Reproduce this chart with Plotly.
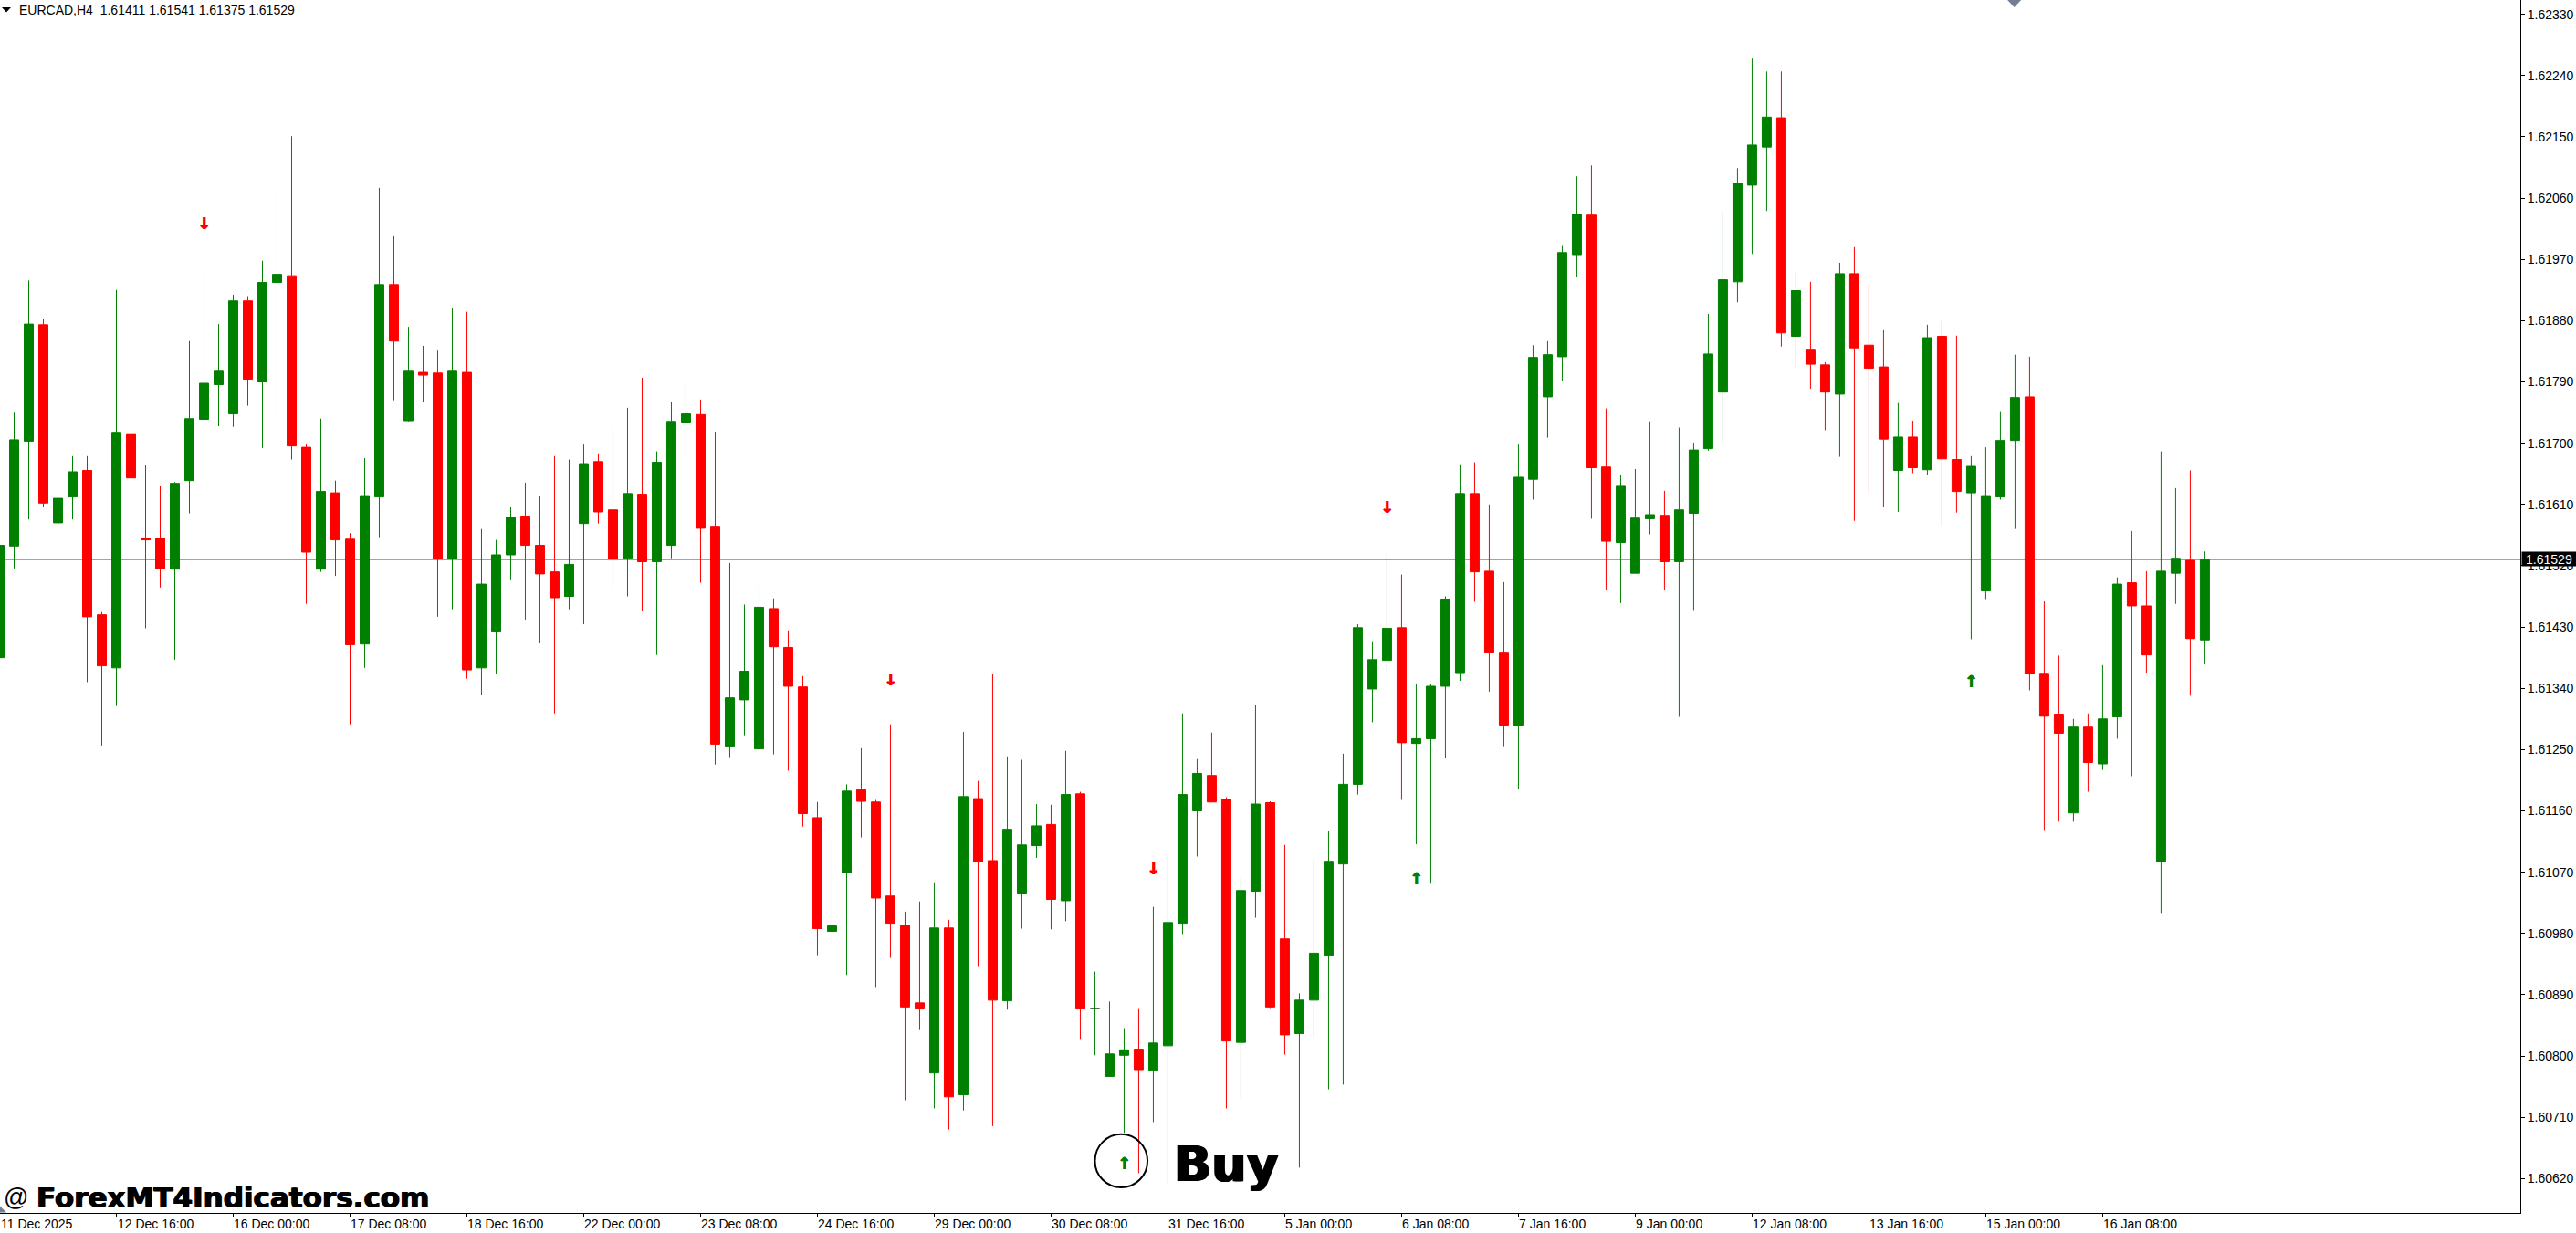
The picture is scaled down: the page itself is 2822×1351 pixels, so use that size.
import plotly.graph_objects as go

symbol_header = "EURCAD,H4\u00a0\u00a01.61411 1.61541 1.61375 1.61529"
last_price = 1.61529

opens = [1.61385,1.61549,1.61703,1.61874,1.61583,1.61621,1.61660,1.61448,1.61370,1.61714,
1.61560,1.61560,1.61515,1.61645,1.61735,1.61786,1.61743,1.61909,1.61790,1.61936,
1.61946,1.61694,1.61515,1.61627,1.61559,1.61405,1.61621,1.61933,1.61733,1.61804,
1.61803,1.61530,1.61804,1.61370,1.61424,1.61536,1.61593,1.61550,1.61511,1.61475,
1.61582,1.61673,1.61602,1.61531,1.61625,1.61526,1.61550,1.61731,1.61742,1.61578,
1.61255,1.61323,1.61251,1.61457,1.61400,1.61342,1.61150,1.60983,1.61069,1.61191,
1.61173,1.61035,1.60992,1.60878,1.60775,1.60988,1.60743,1.61178,1.61087,1.60881,
1.61038,1.61109,1.61140,1.61028,1.61185,1.60870,1.60770,1.60801,1.60810,1.60779,
1.60815,1.60995,1.61160,1.61212,1.61177,1.60820,1.61042,1.61172,1.60972,1.60833,
1.60882,1.60948,1.61082,1.61199,1.61339,1.61381,1.61429,1.61259,1.61266,1.61343,
1.61363,1.61626,1.61512,1.61393,1.61286,1.61647,1.61768,1.61827,1.61977,1.62035,
1.61665,1.61554,1.61509,1.61589,1.61594,1.61526,1.61597,1.61692,1.61775,1.61937,
1.62079,1.62135,1.62178,1.61857,1.61838,1.61815,1.61772,1.61949,1.61844,1.61812,
1.61660,1.61709,1.61661,1.61857,1.61676,1.61627,1.61483,1.61621,1.61704,1.61768,
1.61362,1.61302,1.61157,1.61283,1.61229,1.61298,1.61495,1.61461,1.61085,1.61509,
1.61528,1.61411]

highs = [1.61550,1.61746,1.61939,1.61882,1.61750,1.61681,1.61681,1.61452,1.61925,1.61720,
1.61668,1.61637,1.61643,1.61850,1.61962,1.61875,1.61918,1.61916,1.61968,1.62079,
1.62151,1.61698,1.61736,1.61645,1.61568,1.61678,1.62075,1.62004,1.61871,1.61843,
1.61836,1.61899,1.61893,1.61574,1.61558,1.61606,1.61642,1.61623,1.61681,1.61676,
1.61698,1.61685,1.61723,1.61752,1.61796,1.61688,1.61760,1.61788,1.61764,1.61717,
1.61524,1.61463,1.61492,1.61472,1.61425,1.61358,1.61173,1.61117,1.61199,1.61252,
1.61176,1.61287,1.61012,1.61027,1.61055,1.61000,1.61276,1.61204,1.61361,1.61240,
1.61235,1.61170,1.61169,1.61248,1.61188,1.60924,1.60880,1.60841,1.60869,1.61019,
1.61095,1.61303,1.61236,1.61275,1.61180,1.61061,1.61315,1.61174,1.61110,1.60892,
1.61090,1.61130,1.61244,1.61434,1.61409,1.61538,1.61507,1.61347,1.61347,1.61475,
1.61669,1.61672,1.61610,1.61496,1.61698,1.61844,1.61850,1.61991,1.62092,1.62108,
1.61751,1.61653,1.61662,1.61732,1.61630,1.61723,1.61701,1.61890,1.62040,1.62104,
1.62265,1.62246,1.62246,1.61952,1.61937,1.61819,1.61965,1.61988,1.61933,1.61866,
1.61759,1.61733,1.61874,1.61879,1.61858,1.61681,1.61694,1.61747,1.61830,1.61827,
1.61469,1.61388,1.61295,1.61303,1.61374,1.61503,1.61571,1.61512,1.61688,1.61634,
1.61660,1.61541]

lows = [1.61385,1.61516,1.61588,1.61606,1.61578,1.61588,1.61349,1.61256,1.61314,1.61582,
1.61428,1.61488,1.61382,1.61597,1.61697,1.61725,1.61724,1.61755,1.61693,1.61731,
1.61676,1.61464,1.61511,1.61505,1.61287,1.61370,1.61562,1.61763,1.61732,1.61761,
1.61445,1.61456,1.61354,1.61330,1.61361,1.61500,1.61441,1.61406,1.61303,1.61456,
1.61434,1.61582,1.61489,1.61475,1.61454,1.61389,1.61531,1.61681,1.61495,1.61228,
1.61239,1.61271,1.61251,1.61243,1.61219,1.61137,1.60948,1.60960,1.60919,1.61121,
1.60900,1.60944,1.60735,1.60838,1.60723,1.60692,1.60720,1.60932,1.60697,1.60868,
1.60987,1.61091,1.60986,1.60998,1.60825,1.60801,1.60770,1.60687,1.60628,1.60703,
1.60612,1.60979,1.61093,1.61173,1.60723,1.60738,1.61003,1.60869,1.60802,1.60636,
1.60827,1.60751,1.60758,1.61184,1.61290,1.61363,1.61176,1.61111,1.61053,1.61237,
1.61351,1.61467,1.61335,1.61255,1.61192,1.61617,1.61708,1.61791,1.61944,1.61589,
1.61485,1.61465,1.61509,1.61566,1.61484,1.61298,1.61455,1.61689,1.61700,1.61907,
1.61978,1.62041,1.61842,1.61810,1.61780,1.61719,1.61680,1.61586,1.61626,1.61607,
1.61599,1.61656,1.61653,1.61579,1.61598,1.61412,1.61471,1.61617,1.61574,1.61337,
1.61132,1.61144,1.61144,1.61188,1.61220,1.61266,1.61211,1.61363,1.61010,1.61464,
1.61329,1.61375]

closes = [1.61550,1.61705,1.61875,1.61612,1.61619,1.61658,1.61445,1.61373,1.61716,1.61649,
1.61558,1.61516,1.61641,1.61736,1.61788,1.61807,1.61909,1.61794,1.61936,1.61948,
1.61696,1.61540,1.61629,1.61558,1.61404,1.61623,1.61933,1.61850,1.61807,1.61800,
1.61530,1.61807,1.61367,1.61493,1.61536,1.61591,1.61550,1.61508,1.61473,1.61522,
1.61670,1.61599,1.61530,1.61626,1.61526,1.61672,1.61732,1.61743,1.61575,1.61258,
1.61326,1.61365,1.61459,1.61401,1.61343,1.61156,1.60987,1.60991,1.61189,1.61174,
1.61032,1.60995,1.60872,1.60869,1.60988,1.60740,1.61181,1.61085,1.60882,1.61133,
1.61110,1.61138,1.61030,1.61184,1.60869,1.60870,1.60803,1.60809,1.60780,1.60819,
1.60996,1.61184,1.61215,1.61173,1.60822,1.61043,1.61170,1.60872,1.60831,1.60882,
1.60951,1.61086,1.61199,1.61429,1.61382,1.61428,1.61260,1.61266,1.61343,1.61471,
1.61626,1.61511,1.61393,1.61286,1.61650,1.61826,1.61830,1.61980,1.62036,1.61664,
1.61556,1.61638,1.61590,1.61595,1.61526,1.61602,1.61690,1.61831,1.61940,1.62082,
1.62138,1.62179,1.61862,1.61924,1.61816,1.61775,1.61949,1.61840,1.61810,1.61706,
1.61709,1.61664,1.61855,1.61677,1.61629,1.61666,1.61623,1.61704,1.61767,1.61361,
1.61299,1.61274,1.61283,1.61231,1.61295,1.61493,1.61461,1.61389,1.61512,1.61531,
1.61413,1.61529]

y_ticks = [1.62330,1.62240,1.62150,1.62060,1.61970,1.61880,1.61790,1.61700,1.61610,1.61520,
           1.61430,1.61340,1.61250,1.61160,1.61070,1.60980,1.60890,1.60800,1.60710,1.60620]

x_tick_bars = [0,8,16,24,32,40,48,56,64,72,80,88,96,104,112,120,128,136,144]
x_tick_labels = ["11 Dec 2025","12 Dec 16:00","16 Dec 00:00","17 Dec 08:00","18 Dec 16:00",
                 "22 Dec 00:00","23 Dec 08:00","24 Dec 16:00","29 Dec 00:00","30 Dec 08:00",
                 "31 Dec 16:00","5 Jan 00:00","6 Jan 08:00","7 Jan 16:00","9 Jan 00:00",
                 "12 Jan 08:00","13 Jan 16:00","15 Jan 00:00","16 Jan 08:00"]

sell_bars = [14, 61, 79, 95]
sell_prices = [1.62021, 1.61351, 1.61073, 1.61604]
buy_bars = [77, 97, 135]
buy_prices = [1.60640, 1.61058, 1.61347]

doji_bar = 75
doji_price = 1.60870
buy_circle_x = [75.0, 78.6]
buy_circle_y = [1.60607, 1.60685]

GREEN = "#008000"
RED = "#ff0000"
SLATE = "#708090"
PLOT_W, PLOT_H = 2761.5, 1329.5
TEXT_FONT = "Liberation Sans"
HEAVY = "0.7px 0 0 #000, -0.7px 0 0 #000"

def px(x):
    return x / PLOT_W

def py(y):
    return 1 - y / PLOT_H

bars = list(range(len(opens)))

fig = go.Figure()
fig.add_trace(go.Candlestick(
    x=bars, open=opens, high=highs, low=lows, close=closes, whiskerwidth=0,
    increasing=dict(line=dict(color=GREEN, width=1), fillcolor=GREEN),
    decreasing=dict(line=dict(color=RED, width=1), fillcolor=RED),
    showlegend=False, name="EURCAD,H4"))
fig.add_trace(go.Scatter(
    x=[doji_bar - 0.33, doji_bar + 0.33], y=[doji_price, doji_price], mode="lines",
    line=dict(color="#222222", width=1), showlegend=False, hoverinfo="skip"))
fig.add_trace(go.Scatter(
    x=sell_bars, y=sell_prices, mode="text", text=["\u2193"] * len(sell_bars),
    textfont=dict(family="DejaVu Sans", size=18, color=RED, weight="bold",
                  shadow="0.5px 0 0 #ff0000, -0.5px 0 0 #ff0000"),
    textposition="middle center", showlegend=False, name="sell"))
fig.add_trace(go.Scatter(
    x=buy_bars, y=buy_prices, mode="text", text=["\u2191"] * len(buy_bars),
    textfont=dict(family="DejaVu Sans", size=18, color=GREEN, weight="bold",
                  shadow="0.5px 0 0 #008000, -0.5px 0 0 #008000"),
    textposition="middle center", showlegend=False, name="buy"))

shapes = [
    dict(type="line", xref="paper", x0=0, x1=1, yref="y", y0=last_price, y1=last_price,
         line=dict(color=SLATE, width=1), layer="below"),
    dict(type="circle", xref="x", yref="y", x0=buy_circle_x[0], x1=buy_circle_x[1],
         y0=buy_circle_y[0], y1=buy_circle_y[1], line=dict(color="#000000", width=2)),
    dict(type="path", xref="paper", yref="paper",
         path=f"M {px(2)} {py(8)} L {px(12)} {py(8)} L {px(7)} {py(13.5)} Z",
         fillcolor="#000000", line=dict(width=0)),
    dict(type="path", xref="paper", yref="paper",
         path=f"M {px(2199.5)} {py(0)} L {px(2214.5)} {py(0)} L {px(2207)} {py(8)} Z",
         fillcolor=SLATE, line=dict(width=0)),
    dict(type="path", xref="paper", yref="paper",
         path=f"M 0 {py(1322)} L {px(7)} {py(1329)} L 0 {py(1329)} Z",
         fillcolor=SLATE, line=dict(width=0)),
]

annotations = []
for bar, label in zip(x_tick_bars, x_tick_labels):
    annotations.append(dict(
        x=max(bar, 0.05), xref="x", y=py(1342), yref="paper", text=label, showarrow=False,
        xanchor="left", yanchor="middle", borderpad=0,
        font=dict(family=TEXT_FONT, size=14, color="#000000")))

annotations += [
    dict(x=px(20.5), y=py(11), xref="paper", yref="paper", text=symbol_header, showarrow=False,
         xanchor="left", yanchor="middle", borderpad=0,
         font=dict(family=TEXT_FONT, size=14, color="#000000")),
    dict(x=px(3), y=py(1312), xref="paper", yref="paper", text="@", showarrow=False,
         xanchor="left", yanchor="middle", borderpad=0,
         font=dict(family=TEXT_FONT, size=27, color="#000000")),
    dict(x=px(39), y=py(1312), xref="paper", yref="paper", text="<b>ForexMT4Indicators.com</b>",
         showarrow=False, xanchor="left", yanchor="middle", borderpad=0,
         font=dict(family="DejaVu Sans", size=31, color="#000000", shadow=HEAVY)),
    dict(x=px(1285), y=py(1276), xref="paper", yref="paper", text="<b>Buy</b>", showarrow=False,
         xanchor="left", yanchor="middle", borderpad=0,
         font=dict(family="DejaVu Sans", size=54, color="#000000", shadow="1.2px 0 0 #000, -1.2px 0 0 #000")),
    dict(x=px(2793), y=py(613), xref="paper", yref="paper", text=f"{last_price:.5f}", showarrow=False,
         xanchor="center", yanchor="middle", width=59, height=15, borderpad=0, bgcolor="#000000",
         font=dict(family=TEXT_FONT, size=14, color="#ffffff")),
]

fig.update_layout(
    width=2822, height=1351,
    margin=dict(l=0, r=60.5, t=0, b=21.5, pad=0),
    paper_bgcolor="#ffffff", plot_bgcolor="#ffffff",
    boxgap=0.375, boxgroupgap=0, showlegend=False, shapes=shapes, annotations=annotations,
    xaxis=dict(range=[0.03125, 172.6], rangeslider=dict(visible=False), showgrid=False, zeroline=False,
               tickmode="array", tickvals=x_tick_bars, ticktext=[""] * len(x_tick_bars),
               ticks="outside", ticklen=4, tickcolor="#000000", tickwidth=1,
               showline=True, linecolor="#000000", linewidth=1),
    yaxis=dict(range=[1.605695, 1.62351], side="right", showgrid=False, zeroline=False,
               tickmode="array", tickvals=y_ticks, ticktext=[f"{v:.5f}" for v in y_ticks],
               ticks="outside", ticklen=4, tickcolor="#000000", tickwidth=1,
               showline=True, linecolor="#000000", linewidth=1,
               tickfont=dict(family=TEXT_FONT, size=14, color="#000000")),
)

fig.write_html("out.html", config={"displayModeBar": False},
               post_script="document.body.style.margin='0';document.documentElement.style.overflow='hidden';")
